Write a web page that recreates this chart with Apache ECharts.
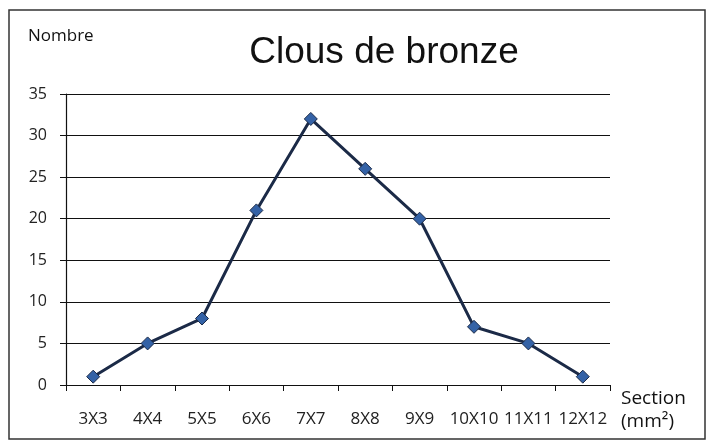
<!DOCTYPE html>
<html>
<head>
<meta charset="utf-8">
<script src="https://cdn.jsdelivr.net/npm/echarts@6/dist/echarts.min.js"></script>
<style>
  html, body { margin: 0; padding: 0; background: #fff; }
  #chart { width: 713px; height: 445px; }
</style>
</head>
<body>
<div id="chart"></div>
<script>
const categories = ['3X3', '4X4', '5X5', '6X6', '7X7', '8X8', '9X9', '10X10', '11X11', '12X12']
const counts = [1, 5, 8, 21, 32, 26, 20, 7, 5, 1]
const yTicks = { min: 0, max: 35, interval: 5 }

const chart = echarts.init(document.getElementById('chart'))
chart.setOption({
  animation: false,
  backgroundColor: '#fff',
  title: {
    text: 'Clous de bronze',
    left: 379,
    top: 29,
    textAlign: 'center',
    textStyle: { fontFamily: 'Liberation Sans', fontSize: 37, fontWeight: 'normal', color: '#111' }
  },
  graphic: [{
    type: 'rect',
    shape: { x: 9, y: 10, width: 696, height: 429 },
    style: { fill: 'none', stroke: '#333', lineWidth: 1.5 }
  }],
  grid: { left: 66, right: 103, top: 94, bottom: 60 },
  xAxis: {
    type: 'category',
    data: categories,
    boundaryGap: true,
    name: 'Section\n(mm²)',
    nameLocation: 'end',
    nameGap: 11,
    nameTextStyle: {
      fontFamily: 'Open Sans', fontSize: 19, color: '#111',
      align: 'left', verticalAlign: 'top', lineHeight: 23, padding: [2, 0, 0, 0]
    },
    axisLine: { lineStyle: { color: '#111', width: 1.2 } },
    axisTick: { show: true, alignWithLabel: false, length: 6, lineStyle: { color: '#111' } },
    axisLabel: { interval: 0, margin: 26, fontFamily: 'Open Sans', fontSize: 17, color: '#222' }
  },
  yAxis: {
    type: 'value',
    min: yTicks.min,
    max: yTicks.max,
    interval: yTicks.interval,
    name: 'Nombre',
    nameLocation: 'end',
    nameGap: 49,
    nameTextStyle: {
      fontFamily: 'Open Sans', fontSize: 17, color: '#111',
      align: 'left', padding: [0, 0, 0, -38]
    },
    axisLine: { show: true, lineStyle: { color: '#111', width: 1.2 } },
    axisTick: { show: true, length: 6, lineStyle: { color: '#111' } },
    axisLabel: { margin: 19, fontFamily: 'Open Sans', fontSize: 16, color: '#222' },
    splitLine: { lineStyle: { color: '#111', width: 1 } }
  },
  series: [{
    type: 'line',
    data: counts,
    symbol: 'diamond',
    symbolSize: 13,
    lineStyle: { color: '#1b2a47', width: 3 },
    itemStyle: { color: '#3462a6', borderColor: '#1b2a47', borderWidth: 1 }
  }]
})
</script>
</body>
</html>
